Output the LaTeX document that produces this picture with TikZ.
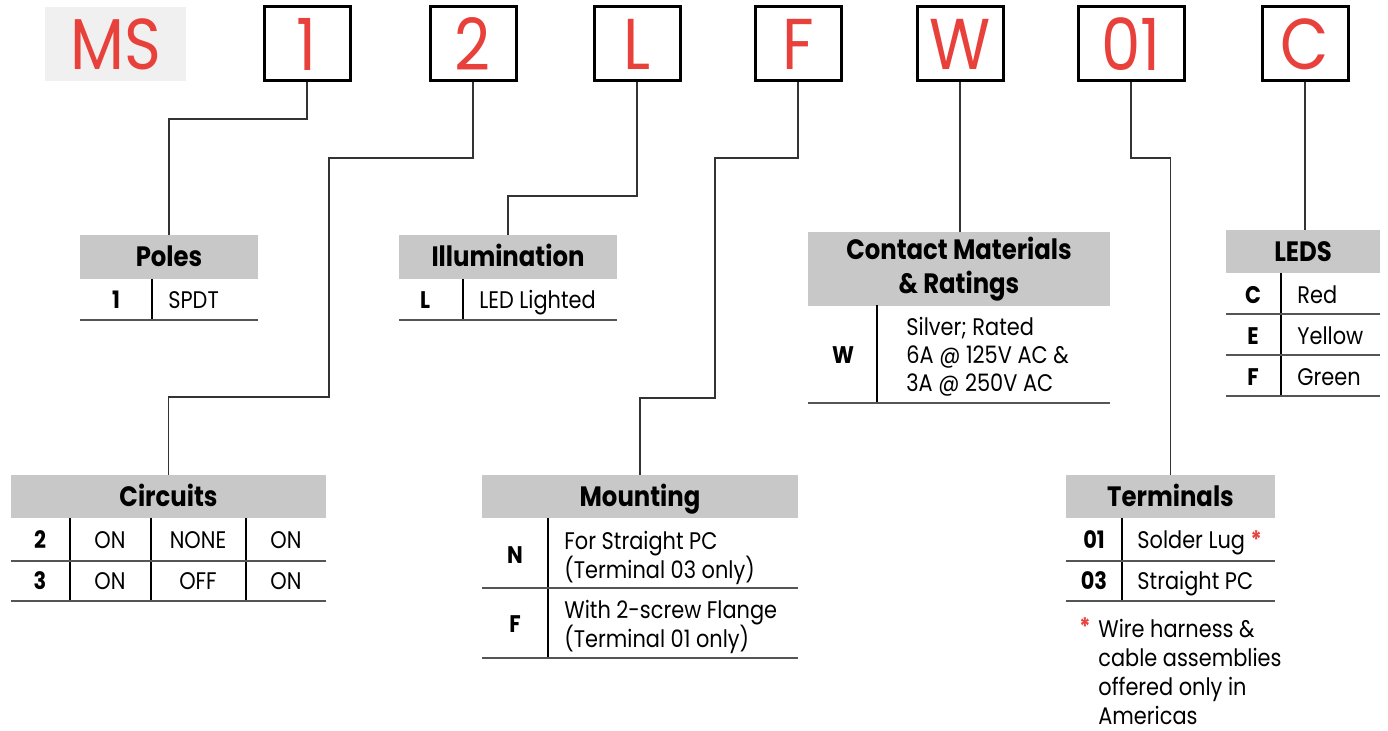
\documentclass[tikz,border=0pt]{standalone}
\usepackage{fontspec}
\setmainfont[FakeStretch=0.87]{Poppins}
\definecolor{fred}{HTML}{E8403A}
\definecolor{hgray}{HTML}{C8C8C8}
\definecolor{msgray}{HTML}{F0F0F0}
\definecolor{lgray}{HTML}{333333}
\definecolor{rgray}{HTML}{555555}
\begin{document}
\begin{tikzpicture}[x=0.5pt,y=-0.5pt,
 letterbox/.style={draw=black,line width=1.5pt,inner sep=0pt,minimum height=37pt,text=fred,font=\fontsize{36}{36}\selectfont},
 conn/.style={draw=lgray,line width=0.8pt},
 hdr/.style={fill=hgray,inner sep=0pt,font=\fontsize{14}{16}\selectfont\bfseries,text height=9.8pt,text depth=0pt},
 hrule/.style={draw=rgray,line width=1pt},
 vdiv/.style={draw=black,line width=0.75pt},
 codetxt/.style={inner sep=0pt,font=\fontsize{12}{14.5}\selectfont\bfseries,text height=8.4pt,text depth=0pt},
 bodytxt/.style={inner sep=0pt,font=\fontsize{12}{14.5}\selectfont,text height=8.4pt,text depth=0pt,anchor=west},
 multitxt/.style={inner sep=0pt,font=\fontsize{12}{14.5}\selectfont,align=left,anchor=west},
]
\useasboundingbox (0,0) rectangle (1388,731);

% top code boxes
\node[fill=msgray,minimum width=70.5pt,minimum height=37pt,inner sep=0pt,text=fred,font=\fontsize{36}{36}\selectfont] (ms) at (115.5,44) {MS};
\node[letterbox,minimum width=43pt] (b1) at (307,44) {1};
\node[letterbox,minimum width=43pt] (b2) at (473,44) {2};
\node[letterbox,minimum width=43pt] (bL) at (637,44) {L};
\node[letterbox,minimum width=43pt] (bF) at (798,44) {F};
\node[letterbox,minimum width=43pt] (bW) at (960,44) {W};
\node[letterbox,minimum width=53pt] (b01) at (1131,44) {01};
\node[letterbox,minimum width=43pt] (bC) at (1305,44) {C};

% headers
\node[hdr,minimum width=89pt,minimum height=22pt] (poles) at (169,257) {Poles};
\node[hdr,minimum width=109pt,minimum height=22pt] (ill) at (508,257) {Illumination};
\node[hdr,minimum width=157.5pt,minimum height=21.5pt] (circ) at (168.5,496.5) {Circuits};
\node[hdr,minimum width=158pt,minimum height=21.5pt] (mount) at (640,496.5) {Mounting};
\node[hdr,minimum width=151pt,minimum height=37pt,text height=,text depth=,align=center] (contact) at (959,269) {Contact Materials\\[1pt]\& Ratings};
\node[hdr,minimum width=104.5pt,minimum height=21.5pt] (term) at (1170.5,496.5) {Terminals};
\node[hdr,minimum width=77pt,minimum height=21.5pt] (leds) at (1303,251.5) {LEDS};

% connectors
\draw[conn] (b1.south) |- (poles.north |- 0,119) -- (poles.north);
\draw[conn] (b2.south) |- (329,158) |- (circ.north |- 0,397) -- (circ.north);
\draw[conn] (bL.south) |- (ill.north |- 0,196) -- (ill.north);
\draw[conn] (bF.south) |- (715,158) |- (mount.north |- 0,398) -- (mount.north);
\draw[conn] (bW.south) -- (bW.south |- contact.north);
\draw[conn] (b01.south) |- (term.north |- 0,158) -- (term.north);
\draw[conn] (bC.south) -- (bC.south |- leds.north);

% Poles table
\draw[vdiv] (152,279) -- (152,320);
\draw[hrule] (80,320) -- (258,320);
\node[codetxt] (p1) at (116,300) {1};
\node[bodytxt] (p1t) at (168,300) {SPDT};

% Illumination table
\draw[vdiv] (463,279) -- (463,320);
\draw[hrule] (399,320) -- (617,320);
\node[codetxt] (i1) at (425,300) {L};
\node[bodytxt] (i1t) at (479,300) {LED Lighted};

% Circuits table
\foreach \x in {70,151,246} \draw[vdiv] (\x,518) -- (\x,601);
\draw[hrule] (11,561) -- (326,561);
\draw[hrule] (11,601) -- (326,601);
\node[codetxt] (c2) at (40,540) {2};
\node[bodytxt,anchor=center] (c2a) at (110,540) {ON};
\node[bodytxt,anchor=center] (c2b) at (198,540) {NONE};
\node[bodytxt,anchor=center] (c2c) at (286,540) {ON};
\node[codetxt] (c3) at (40,581) {3};
\node[bodytxt,anchor=center] (c3a) at (110,581) {ON};
\node[bodytxt,anchor=center] (c3b) at (198,581) {OFF};
\node[bodytxt,anchor=center] (c3c) at (286,581) {ON};

% Mounting table
\draw[vdiv] (548,518) -- (548,658);
\draw[hrule] (482,588) -- (798,588);
\draw[hrule] (482,658) -- (798,658);
\node[codetxt] (mN) at (515,555) {N};
\node[multitxt] (mNt) at (564,558) {For Straight PC\\(Terminal 03 only)};
\node[codetxt] (mF) at (515,624) {F};
\node[multitxt] (mFt) at (564,627) {With 2-screw Flange\\(Terminal 01 only)};

% Contact table
\draw[vdiv] (877,305) -- (877,403);
\draw[hrule] (808,403) -- (1110,403);
\node[codetxt] (cW) at (843,355) {W};
\node[multitxt,font=\fontsize{12}{14}\selectfont] (cWt) at (906,357) {Silver; Rated\\6A @ 125V AC \&\\3A @ 250V AC};

% Terminals table
\draw[vdiv] (1122,518) -- (1122,601);
\draw[hrule] (1066,561) -- (1275,561);
\draw[hrule] (1066,601) -- (1275,601);
\node[codetxt] (t01) at (1094,540) {01};
\node[bodytxt] (t01t) at (1137,540) {Solder Lug {\color{fred}\bfseries*}};
\node[codetxt] (t03) at (1094,581) {03};
\node[bodytxt] (t03t) at (1137,581) {Straight PC};
\node[inner sep=0pt,text=fred,font=\fontsize{12}{14}\selectfont\bfseries] (star) at (1085,627) {*};
\node[multitxt] (note) at (1098,672) {Wire harness \&\\cable assemblies\\offered only in\\Americas};

% LEDS table
\draw[vdiv] (1281,273) -- (1281,396);
\foreach \y in {314,355,396} \draw[hrule] (1226,\y) -- (1380,\y);
\node[codetxt] (lC) at (1253,295) {C};
\node[bodytxt] (lCt) at (1297,295) {Red};
\node[codetxt] (lE) at (1253,336) {E};
\node[bodytxt] (lEt) at (1297,336) {Yellow};
\node[codetxt] (lF) at (1253,377) {F};
\node[bodytxt] (lFt) at (1297,377) {Green};
\end{tikzpicture}
\end{document}
